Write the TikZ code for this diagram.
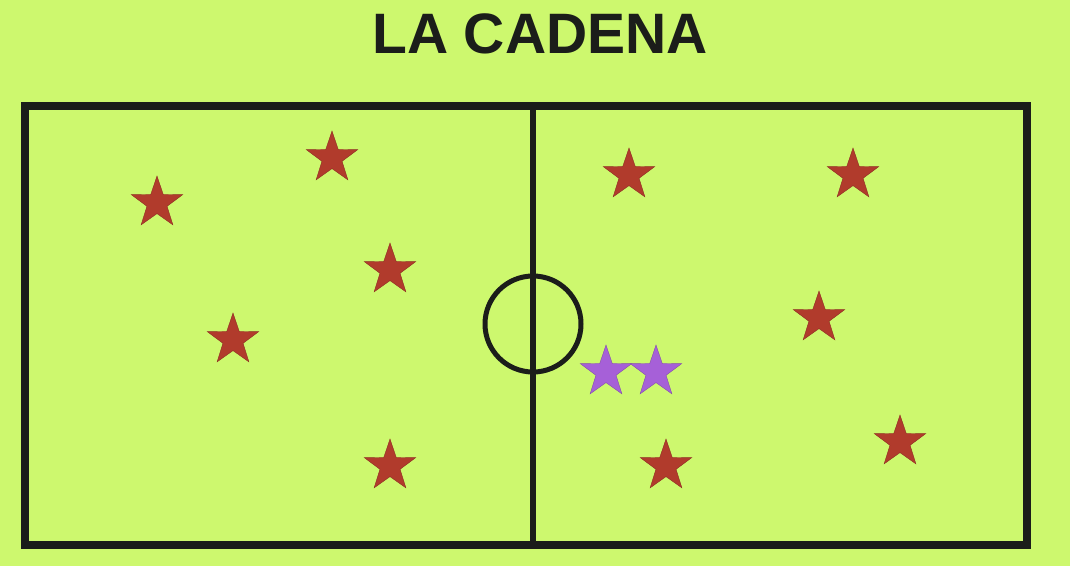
\documentclass[tikz,border=0pt]{standalone}
\usepackage{fontspec}
\setmainfont{Liberation Sans}
\usepackage{tikz}
\usetikzlibrary{shapes.geometric}
\usepackage{xcolor}
\definecolor{grass}{HTML}{CDF86E}
\definecolor{chalk}{HTML}{1B1D1A}
\definecolor{redstar}{HTML}{B13B2C}
\definecolor{violetstar}{HTML}{A660D8}
\tikzset{
  pitch/.style={draw=chalk,line width=8pt},
  midline/.style={draw=chalk,line width=6pt},
  centre/.style={draw=chalk,line width=5pt},
  player/.style={star,star points=5,star point ratio=2.55,minimum size=54pt,
    inner sep=0pt,fill=redstar,draw=redstar!80!black,line width=0.4pt},
  chaser/.style={player,fill=violetstar,draw=violetstar!80!black},
  titlestyle/.style={font=\fontsize{57}{60}\selectfont\bfseries,text=chalk,anchor=base,inner sep=0pt}
}
\begin{document}
\begin{tikzpicture}[x=1pt,y=-1pt]
        \fill[grass] (0,0) rectangle (1070,566);
        \useasboundingbox (0,0) rectangle (1070,566);
        \node[titlestyle] (title) at (540,53) {LA CADENA};
        % campo
        \draw[pitch] (25,106) rectangle (1027,544.5);
        \draw[midline] (533,106) -- (533,544.5);
        \draw[centre] (533,324) circle (48);
        % jugadores
        \node[player] (p1) at (157,203) {};
        \node[player] (p2) at (332,158) {};
        \node[player] (p3) at (390,270) {};
        \node[player] (p4) at (233,340) {};
        \node[player] (p5) at (390,466) {};
        \node[player] (p6) at (629,175) {};
        \node[player] (p7) at (853,175) {};
        \node[player] (p8) at (819,318) {};
        \node[player] (p9) at (900,442) {};
        \node[player] (p10) at (666,466) {};
        % la cadena
        \node[chaser] (c1) at (606,372) {};
        \node[chaser] (c2) at (656,372) {};
      \end{tikzpicture}
\end{document}
